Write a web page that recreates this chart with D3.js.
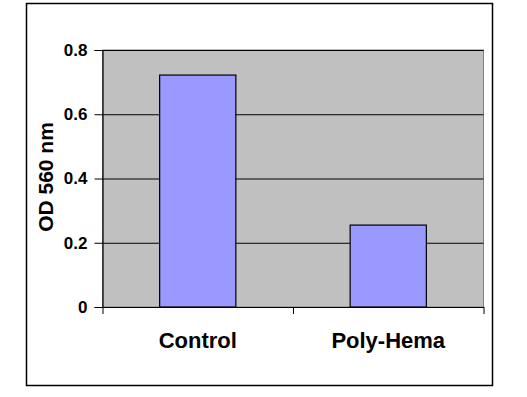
<!DOCTYPE html>
<html>
<head>
<meta charset="utf-8">
<script src="https://cdn.jsdelivr.net/npm/d3@7"></script>
<style>
  body { margin: 0; background: #fff; }
  svg { display: block; font-family: "Liberation Sans", Arial, sans-serif; font-weight: bold; }
</style>
</head>
<body>
<script>
// data
var categories = ["Control", "Poly-Hema"];
var values = [0.722, 0.255];
var yTicks = [0, 0.2, 0.4, 0.6, 0.8];

var W = 527, H = 397;
var plot = {left: 102.5, right: 483.5, top: 50, bottom: 307};

var svg = d3.select("body").append("svg")
    .attr("width", W)
    .attr("height", H);

// outer chart border
svg.append("rect")
    .attr("x", 26.5).attr("y", 3.5)
    .attr("width", 466).attr("height", 382)
    .attr("fill", "#fff")
    .attr("stroke", "#000")
    .attr("stroke-width", 1.5);

// scales
var x = d3.scaleBand()
    .domain(categories)
    .range([plot.left, plot.right])
    .paddingInner(0.6)
    .paddingOuter(0.3);

var xEdge = d3.scaleLinear()
    .domain([0, categories.length])
    .range([plot.left, plot.right]);

var y = d3.scaleLinear()
    .domain([0, 0.8])
    .range([plot.bottom, plot.top]);

// plot area
svg.append("rect")
    .attr("x", plot.left).attr("y", plot.top)
    .attr("width", plot.right - plot.left)
    .attr("height", plot.bottom - plot.top)
    .attr("fill", "#c0c0c0")
    .attr("stroke", "#808080")
    .attr("stroke-width", 1);

// gridlines
var grid = svg.append("g")
    .attr("transform", "translate(" + plot.left + ",0)")
    .call(d3.axisLeft(y).tickValues(yTicks.slice(1))
      .tickSize(-(plot.right - plot.left)).tickFormat(""));
grid.select(".domain").remove();
grid.selectAll("line").attr("stroke", "#000").attr("stroke-width", 1);

// bars
svg.selectAll(".bar")
    .data(values)
    .enter()
    .append("rect")
    .attr("class", "bar")
    .attr("x", function(d, i) { return x(categories[i]); })
    .attr("y", function(d) { return y(d); })
    .attr("width", x.bandwidth())
    .attr("height", function(d) { return y(0) - y(d); })
    .attr("fill", "#9999ff")
    .attr("stroke", "#000")
    .attr("stroke-width", 1.2);

// y-axis
var yAxis = svg.append("g")
    .attr("transform", "translate(" + plot.left + ",0)")
    .call(d3.axisLeft(y).tickValues(yTicks).tickSize(8).tickPadding(7)
      .tickFormat(function(d) { return d === 0 ? "0" : d.toFixed(1); }));
yAxis.select(".domain").attr("stroke", "#000").attr("stroke-width", 1.2);
yAxis.selectAll("line").attr("stroke", "#000");
yAxis.selectAll("text")
    .attr("fill", "#000")
    .style("font-size", "17px")
    .style("font-weight", "bold")
    .style("font-family", "'Liberation Sans', Arial, sans-serif");

// x-axis line and category boundary ticks
var xAxis = svg.append("g")
    .attr("transform", "translate(0," + plot.bottom + ")")
    .call(d3.axisBottom(xEdge).tickValues(d3.range(categories.length + 1))
      .tickSize(7).tickSizeOuter(0).tickFormat(""));
xAxis.select(".domain").attr("stroke", "#000").attr("stroke-width", 1.2);
xAxis.selectAll("line").attr("stroke", "#000");

// category labels
var xLabels = svg.append("g")
    .attr("transform", "translate(0," + plot.bottom + ")")
    .call(d3.axisBottom(x).tickSize(0).tickPadding(25));
xLabels.select(".domain").remove();
xLabels.selectAll("text")
    .attr("fill", "#000")
    .style("font-size", "22px")
    .style("font-weight", "bold")
    .style("font-family", "'Liberation Sans', Arial, sans-serif");

// y-axis title
svg.append("text")
    .attr("transform", "rotate(-90)")
    .attr("x", -177)
    .attr("y", 52.5)
    .attr("text-anchor", "middle")
    .style("font-size", "21px")
    .text("OD 560 nm");
</script>
</body>
</html>
